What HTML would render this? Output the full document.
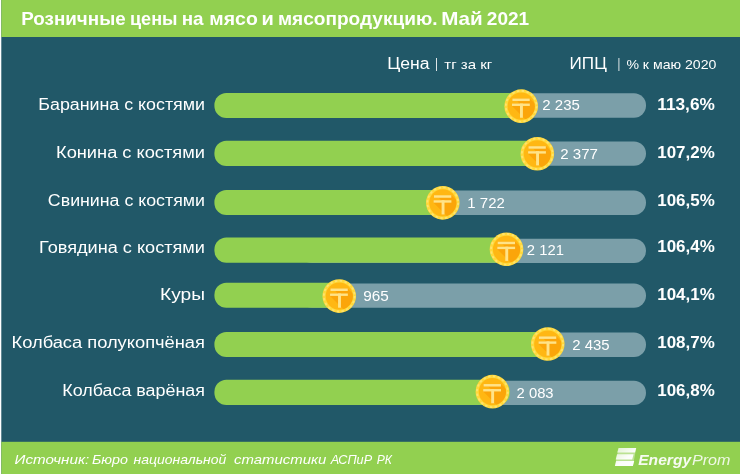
<!DOCTYPE html>
<html lang="ru"><head><meta charset="utf-8"><title>Розничные цены на мясо и мясопродукцию. Май 2021</title>
<style>
html,body{margin:0;padding:0;background:#fff;}
body{width:740px;height:474px;overflow:hidden;}
svg{display:block;}
text{font-family:"Liberation Sans",sans-serif;fill:#fff;}
.b{font-weight:bold;}
.i{font-style:italic;}
</style></head><body>
<svg width="740" height="474" viewBox="0 0 740 474">
<defs>
<filter id="soft" x="-10" y="-10" width="760" height="494" filterUnits="userSpaceOnUse" color-interpolation-filters="sRGB"><feGaussianBlur stdDeviation="0.45"/></filter>
<clipPath id="cc"><circle r="13.6"/></clipPath>
<g id="coin">
<circle r="16.8" fill="#ffd83a"/>
<circle r="15.4" fill="none" stroke="#ffe57a" stroke-width="1.8" stroke-dasharray="2.4 2.44" opacity=".8"/>
<circle r="13.6" fill="#ffb713"/>
<path clip-path="url(#cc)" d="M-8.8,-7.7 H8.5 L30,13.8 L12,21.1 L-9.2,-0.1 V-2.7 H-1.7 L-4,-5 H-8.8 Z" fill="#fba50a"/>
<g fill="#ffe388">
<rect x="-8.8" y="-7.6" width="17.3" height="2.5"/>
<rect x="-9.2" y="-2.6" width="17.8" height="2.4"/>
<rect x="-1.2" y="-2.6" width="2.9" height="14.2"/>
</g>
</g>
<linearGradient id="lg" x1="0" y1="0" x2="1" y2="1"><stop offset="0" stop-color="#fff" stop-opacity=".55"/><stop offset=".55" stop-color="#fff" stop-opacity=".95"/><stop offset="1" stop-color="#fff" stop-opacity="1"/></linearGradient>
</defs>

<g filter="url(#soft)">
<rect x="-10" y="-10" width="760" height="494" fill="#fff"/>
<rect x="1.3" y="-10" width="750" height="494" fill="#215868"/>
<rect x="1.3" y="-10" width="750" height="47" fill="#92d050"/>
<rect x="1.3" y="441.8" width="750" height="42.2" fill="#92d050"/>
<text class="b" x="21.28" y="24.80" font-size="18.5" textLength="104.39" lengthAdjust="spacingAndGlyphs">Розничные</text>
<text class="b" x="129.98" y="24.80" font-size="18.5" textLength="47.51" lengthAdjust="spacingAndGlyphs">цены</text>
<text class="b" x="181.68" y="24.80" font-size="18.5" textLength="21.88" lengthAdjust="spacingAndGlyphs">на</text>
<text class="b" x="209.39" y="24.80" font-size="18.5" textLength="48.39" lengthAdjust="spacingAndGlyphs">мясо</text>
<text class="b" x="261.60" y="24.80" font-size="18.5" textLength="12.30" lengthAdjust="spacingAndGlyphs">и</text>
<text class="b" x="277.91" y="24.80" font-size="18.5" textLength="159.63" lengthAdjust="spacingAndGlyphs">мясопродукцию.</text>
<text class="b" x="441.16" y="24.80" font-size="18.5" textLength="41.56" lengthAdjust="spacingAndGlyphs">Май</text>
<text class="b" x="486.83" y="24.80" font-size="18.5" textLength="42.39" lengthAdjust="spacingAndGlyphs">2021</text>
<text x="387.2" y="68.5" font-size="15.8" textLength="42.3" lengthAdjust="spacingAndGlyphs">Цена</text>
<rect x="436" y="58" width="1" height="13" fill="#fff" opacity=".85"/>
<text x="444.3" y="68.5" font-size="13.4" textLength="48" lengthAdjust="spacingAndGlyphs">тг за кг</text>
<text x="569.6" y="68.5" font-size="15.8" textLength="37.2" lengthAdjust="spacingAndGlyphs">ИПЦ</text>
<rect x="618.4" y="58" width="1" height="13" fill="#fff" opacity=".85"/>
<text x="626.4" y="68.5" font-size="13.4" textLength="90" lengthAdjust="spacingAndGlyphs">% к маю 2020</text>
<rect x="300" y="93.30" width="346" height="24.40" rx="12" fill="#7b9fa9"/>
<rect x="214.4" y="93.00" width="321.8" height="24.900000000000006" rx="12" fill="#92d050"/>
<use href="#coin" x="521.2" y="106.15"/>
<text x="38.27" y="109.60" font-size="16" textLength="166.68" lengthAdjust="spacingAndGlyphs">Баранина с костями</text>
<text x="542.25" y="109.60" font-size="13.8" textLength="37.59" lengthAdjust="spacingAndGlyphs">2 235</text>
<text class="b" x="657.26" y="109.90" font-size="16.4" textLength="57.59" lengthAdjust="spacingAndGlyphs">113,6%</text>
<rect x="300" y="141.45" width="346" height="24.30" rx="12" fill="#7b9fa9"/>
<rect x="214.4" y="140.85" width="337.9" height="25.05000000000001" rx="12" fill="#92d050"/>
<use href="#coin" x="537.3" y="153.80"/>
<text x="56.04" y="158.00" font-size="16" textLength="148.92" lengthAdjust="spacingAndGlyphs">Конина с костями</text>
<text x="560.25" y="159.00" font-size="13.8" textLength="37.75" lengthAdjust="spacingAndGlyphs">2 377</text>
<text class="b" x="657.28" y="157.70" font-size="16.4" textLength="57.48" lengthAdjust="spacingAndGlyphs">107,2%</text>
<rect x="300" y="190.45" width="346" height="24.45" rx="12" fill="#7b9fa9"/>
<rect x="214.4" y="189.90" width="243.4" height="25.0" rx="12" fill="#92d050"/>
<use href="#coin" x="442.8" y="202.85"/>
<text x="47.86" y="206.00" font-size="16" textLength="157.04" lengthAdjust="spacingAndGlyphs">Свинина с костями</text>
<text x="467.38" y="207.70" font-size="13.8" textLength="37.41" lengthAdjust="spacingAndGlyphs">1 722</text>
<text class="b" x="657.28" y="205.90" font-size="16.4" textLength="57.48" lengthAdjust="spacingAndGlyphs">106,5%</text>
<rect x="300" y="238.70" width="346" height="24.20" rx="12" fill="#7b9fa9"/>
<rect x="214.4" y="237.40" width="307.1" height="25.349999999999994" rx="12" fill="#92d050"/>
<use href="#coin" x="506.5" y="249.30"/>
<text x="39.05" y="252.50" font-size="16" textLength="165.90" lengthAdjust="spacingAndGlyphs">Говядина с костями</text>
<text x="526.86" y="254.70" font-size="13.8" textLength="37.04" lengthAdjust="spacingAndGlyphs">2 121</text>
<text class="b" x="657.28" y="252.30" font-size="16.4" textLength="57.48" lengthAdjust="spacingAndGlyphs">106,4%</text>
<rect x="300" y="283.60" width="346" height="24.20" rx="12" fill="#7b9fa9"/>
<rect x="214.4" y="282.75" width="139.8" height="24.94999999999999" rx="12" fill="#92d050"/>
<use href="#coin" x="339.25" y="296.10"/>
<text x="160.07" y="299.60" font-size="16" textLength="45.00" lengthAdjust="spacingAndGlyphs">Куры</text>
<text x="363.21" y="301.00" font-size="13.8" textLength="25.56" lengthAdjust="spacingAndGlyphs">965</text>
<text class="b" x="657.28" y="300.20" font-size="16.4" textLength="57.48" lengthAdjust="spacingAndGlyphs">104,1%</text>
<rect x="300" y="332.40" width="346" height="24.50" rx="12" fill="#7b9fa9"/>
<rect x="214.4" y="331.90" width="348.4" height="25.100000000000023" rx="12" fill="#92d050"/>
<use href="#coin" x="547.75" y="344.00"/>
<text x="11.54" y="347.90" font-size="16" textLength="193.41" lengthAdjust="spacingAndGlyphs">Колбаса полукопчёная</text>
<text x="572.25" y="349.90" font-size="13.8" textLength="37.38" lengthAdjust="spacingAndGlyphs">2 435</text>
<text class="b" x="657.28" y="348.10" font-size="16.4" textLength="57.48" lengthAdjust="spacingAndGlyphs">108,7%</text>
<rect x="300" y="380.75" width="346" height="24.15" rx="12" fill="#7b9fa9"/>
<rect x="214.4" y="379.75" width="295.5" height="25.19999999999999" rx="12" fill="#92d050"/>
<use href="#coin" x="492.4" y="391.65"/>
<text x="62.32" y="395.75" font-size="16" textLength="142.61" lengthAdjust="spacingAndGlyphs">Колбаса варёная</text>
<text x="516.56" y="398.20" font-size="13.8" textLength="37.07" lengthAdjust="spacingAndGlyphs">2 083</text>
<text class="b" x="657.28" y="395.90" font-size="16.4" textLength="57.48" lengthAdjust="spacingAndGlyphs">106,8%</text>
<text class="i" x="14.54" y="464.00" font-size="13.6" textLength="74.77" lengthAdjust="spacingAndGlyphs">Источник:</text>
<text class="i" x="92.07" y="464.00" font-size="13.6" textLength="35.86" lengthAdjust="spacingAndGlyphs">Бюро</text>
<text class="i" x="133.54" y="464.00" font-size="13.6" textLength="92.79" lengthAdjust="spacingAndGlyphs">национальной</text>
<text class="i" x="234.05" y="464.00" font-size="13.6" textLength="92.24" lengthAdjust="spacingAndGlyphs">статистики</text>
<text class="i" x="330.63" y="464.00" font-size="13.6" textLength="41.44" lengthAdjust="spacingAndGlyphs">АСПиР</text>
<text class="i" x="376.64" y="464.00" font-size="13.6" textLength="15.24" lengthAdjust="spacingAndGlyphs">РК</text>
<g id="logo"><path d="M618.6,448.1 H636.2 L632.9,465.9 H614.9 Z" fill="#fff" opacity=".38"/><path d="M618.6,448.1 H636.2 L635,452.5 H617.2 Z M617,454.2 H633.6 L632.2,459.4 H615.7 Z M616.2,461.1 H634.2 L632.9,465.9 H614.9 Z" fill="url(#lg)"/><text class="b i" x="638.2" y="464.9" font-size="14.6" textLength="53" lengthAdjust="spacingAndGlyphs" fill="#fff" opacity=".92">Energy</text><text class="i" x="692" y="464.9" font-size="14.6" textLength="38.5" lengthAdjust="spacingAndGlyphs" opacity=".85">Prom</text></g>
</g>
</svg></body></html>
